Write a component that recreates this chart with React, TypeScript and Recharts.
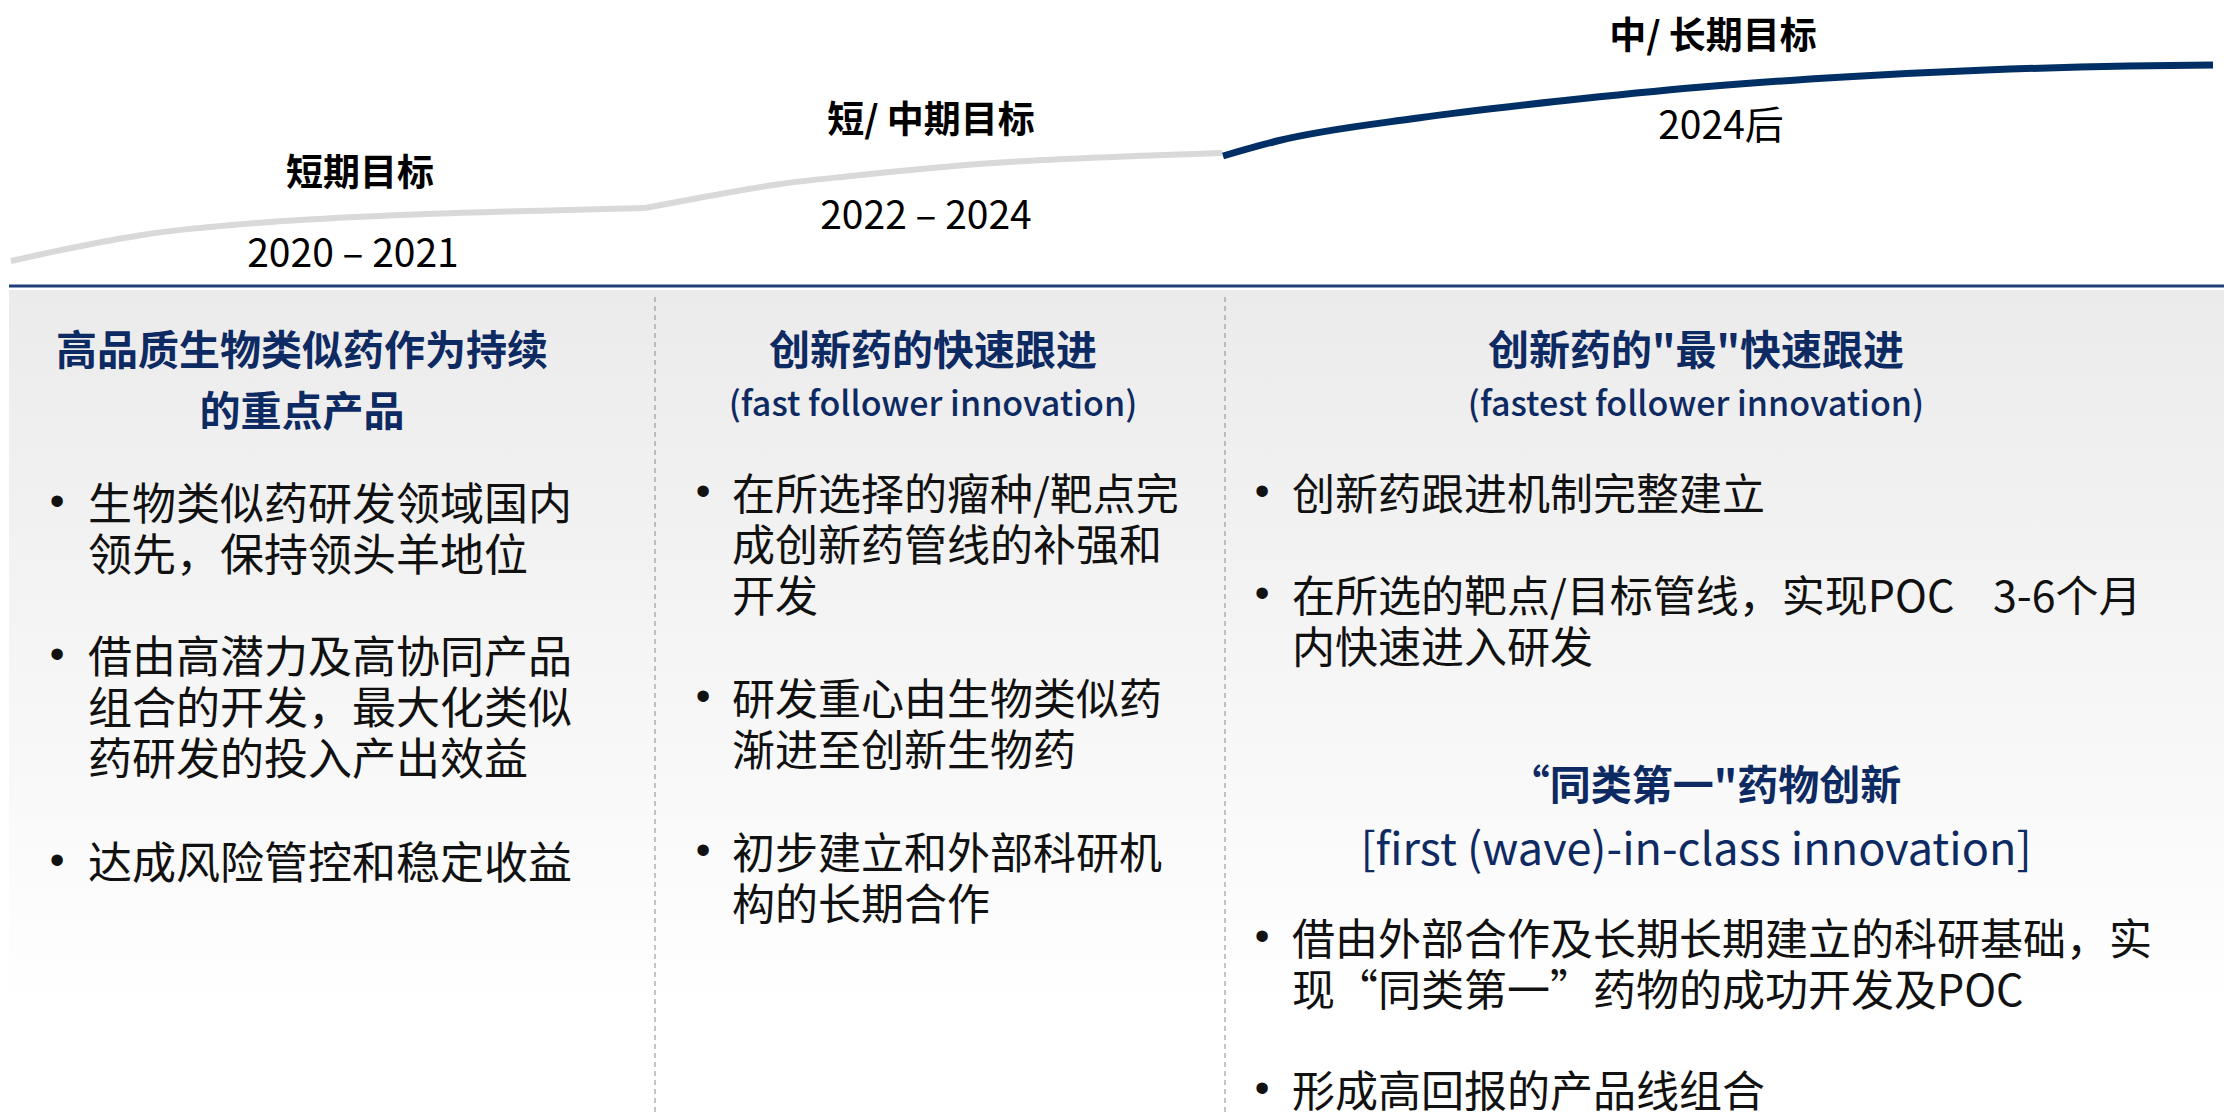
import { LineChart, Line, XAxis, YAxis, ReferenceLine, ReferenceArea } from "recharts";

const W = 2224;
const H = 1112;

// roadmap curve: x along the page, y = elevation above page bottom
const shortTermCurve = [
  { x: 11, y: 851 },
  { x: 71, y: 864 },
  { x: 142, y: 877 },
  { x: 284, y: 891 },
  { x: 425, y: 898 },
  { x: 567, y: 902 },
  { x: 645, y: 904 },
];
const midTermCurve = [
  { x: 645, y: 904 },
  { x: 709, y: 916 },
  { x: 780, y: 928 },
  { x: 851, y: 936 },
  { x: 993, y: 949 },
  { x: 1135, y: 956 },
  { x: 1222, y: 959 },
];
const longTermCurve = [
  { x: 1223, y: 956 },
  { x: 1277, y: 971 },
  { x: 1418, y: 994 },
  { x: 1560, y: 1011 },
  { x: 1702, y: 1025 },
  { x: 1844, y: 1035 },
  { x: 1986, y: 1042 },
  { x: 2128, y: 1046 },
  { x: 2213, y: 1047 },
];

const stageTitles = ["短期目标", "短/ 中期目标", "中/ 长期目标"];
const stagePeriods = ["2020 – 2021", "2022 – 2024", "2024后"];

const columnTitles = [
  ["高品质生物类似药作为持续", "的重点产品"],
  ["创新药的快速跟进"],
  ["创新药的\"最\"快速跟进"],
];
const columnSubtitles = ["", "(fast follower innovation)", "(fastest follower innovation)"];

const shortTermBullets = [
  ["生物类似药研发领域国内", "领先，保持领头羊地位"],
  ["借由高潜力及高协同产品", "组合的开发，最大化类似", "药研发的投入产出效益"],
  ["达成风险管控和稳定收益"],
];
const midTermBullets = [
  ["在所选择的瘤种/靶点完", "成创新药管线的补强和", "开发"],
  ["研发重心由生物类似药", "渐进至创新生物药"],
  ["初步建立和外部科研机", "构的长期合作"],
];
const longTermBullets = [
  ["创新药跟进机制完整建立"],
  ["在所选的靶点/目标管线，实现POC    3-6个月", "内快速进入研发"],
];
const firstInClassTitle = "“同类第一\"药物创新";
const firstInClassSubtitle = "[first (wave)-in-class innovation]";
const firstInClassBullets = [
  ["借由外部合作及长期长期建立的科研基础，实", "现“同类第一”药物的成功开发及POC"],
  ["形成高回报的产品线组合"],
];

// layout
const NAVY = "#0e2a62";
const FONT = "'Noto Sans CJK SC', 'Noto Sans', sans-serif";
const stageTitlePos = [
  { x: 360, y: 170 },
  { x: 931, y: 117 },
  { x: 1713, y: 33 },
];
const stagePeriodPos = [
  { x: 353, y: 250 },
  { x: 926, y: 212 },
  { x: 1721, y: 122 },
];
const columnCenters = [302, 933, 1696];
const bulletCols = [
  { dot: 57, text: 88, size: 44, starts: [501, 654, 860] },
  { dot: 703, text: 732, size: 43, starts: [491, 696, 850] },
  { dot: 1262, text: 1292, size: 43, starts: [491, 593] },
];
const firstInClassStarts = [936, 1088];
const LINE = 51;

function Centered({ x, y, size, weight, color, children }: any) {
  return (
    <div
      style={{
        position: "absolute",
        left: x,
        top: y,
        transform: "translate(-50%, -50%)",
        fontSize: size,
        fontWeight: weight,
        color,
        lineHeight: 1,
        whiteSpace: "nowrap",
        fontFamily: FONT,
      }}
    >
      {children}
    </div>
  );
}

function BulletList({ items, dot, text, size, starts }: any) {
  return (
    <>
      {items.map((lines: string[], i: number) => (
        <div key={i}>
          <div
            style={{
              position: "absolute",
              left: dot,
              top: starts[i],
              transform: "translate(-50%, -50%)",
              fontSize: 42,
              lineHeight: 1,
              fontFamily: "'Liberation Sans', sans-serif",
              color: "#111",
            }}
          >
            •
          </div>
          {lines.map((ln, j) => (
            <div
              key={j}
              style={{
                position: "absolute",
                left: text,
                top: starts[i] + j * LINE,
                transform: "translateY(-50%)",
                fontSize: size,
                lineHeight: 1,
                whiteSpace: "pre",
                color: "#111",
                fontFamily: FONT,
              }}
            >
              {ln}
            </div>
          ))}
        </div>
      ))}
    </>
  );
}

export default function App() {
  return (
    <div style={{ position: "absolute", left: 0, top: 0, width: W, height: H, background: "#fff", overflow: "hidden" }}>
      <LineChart width={W} height={H} margin={{ top: 0, right: 0, bottom: 0, left: 0 }}>
        <defs>
          <linearGradient id="panelFade" x1="0" y1="0" x2="0" y2="1">
            <stop offset="0%" stopColor="#ebebeb" />
            <stop offset="88%" stopColor="#ffffff" />
          </linearGradient>
        </defs>
        <XAxis type="number" dataKey="x" domain={[0, W]} hide allowDataOverflow />
        <YAxis type="number" domain={[0, H]} hide allowDataOverflow width={0} />
        <ReferenceArea x1={9} x2={W} y1={0} y2={822} fill="url(#panelFade)" fillOpacity={1} stroke="none" />
        <ReferenceLine segment={[{ x: 9, y: 826 }, { x: W, y: 826 }]} stroke="#1f3f78" strokeWidth={3} />
        <ReferenceLine segment={[{ x: 655, y: 0 }, { x: 655, y: 817 }]} stroke="#8a8a8a" strokeDasharray="5 4" strokeWidth={1} />
        <ReferenceLine segment={[{ x: 1225, y: 0 }, { x: 1225, y: 817 }]} stroke="#8a8a8a" strokeDasharray="5 4" strokeWidth={1} />
        <Line data={shortTermCurve} dataKey="y" type="monotone" stroke="#d9d9d9" strokeWidth={6} dot={false} activeDot={false} isAnimationActive={false} />
        <Line data={midTermCurve} dataKey="y" type="monotone" stroke="#d9d9d9" strokeWidth={6} dot={false} activeDot={false} isAnimationActive={false} />
        <Line data={longTermCurve} dataKey="y" type="monotone" stroke="#002f66" strokeWidth={7} dot={false} activeDot={false} isAnimationActive={false} />
      </LineChart>

      {stageTitles.map((t, i) => (
        <Centered key={t} x={stageTitlePos[i].x} y={stageTitlePos[i].y} size={37} weight={700} color="#000">
          {t}
        </Centered>
      ))}
      {stagePeriods.map((t, i) => (
        <Centered key={t} x={stagePeriodPos[i].x} y={stagePeriodPos[i].y} size={39} weight={400} color="#000">
          {t}
        </Centered>
      ))}

      {columnTitles.map((lines, i) =>
        lines.map((ln, j) => (
          <Centered key={i + "-" + j} x={columnCenters[i]} y={347 + j * 61} size={41} weight={700} color={NAVY}>
            {ln}
          </Centered>
        ))
      )}
      {columnSubtitles.map((t, i) =>
        t ? (
          <Centered key={t} x={columnCenters[i]} y={402} size={34} weight={500} color={NAVY}>
            {t}
          </Centered>
        ) : null
      )}

      <BulletList items={shortTermBullets} {...bulletCols[0]} />
      <BulletList items={midTermBullets} {...bulletCols[1]} />
      <BulletList items={longTermBullets} {...bulletCols[2]} />

      <Centered x={1705} y={782} size={41} weight={700} color={NAVY}>
        {firstInClassTitle}
      </Centered>
      <Centered x={1696} y={845} size={45} weight={400} color={NAVY}>
        {firstInClassSubtitle}
      </Centered>
      <BulletList items={firstInClassBullets} dot={1262} text={1292} size={43} starts={firstInClassStarts} />
    </div>
  );
}
